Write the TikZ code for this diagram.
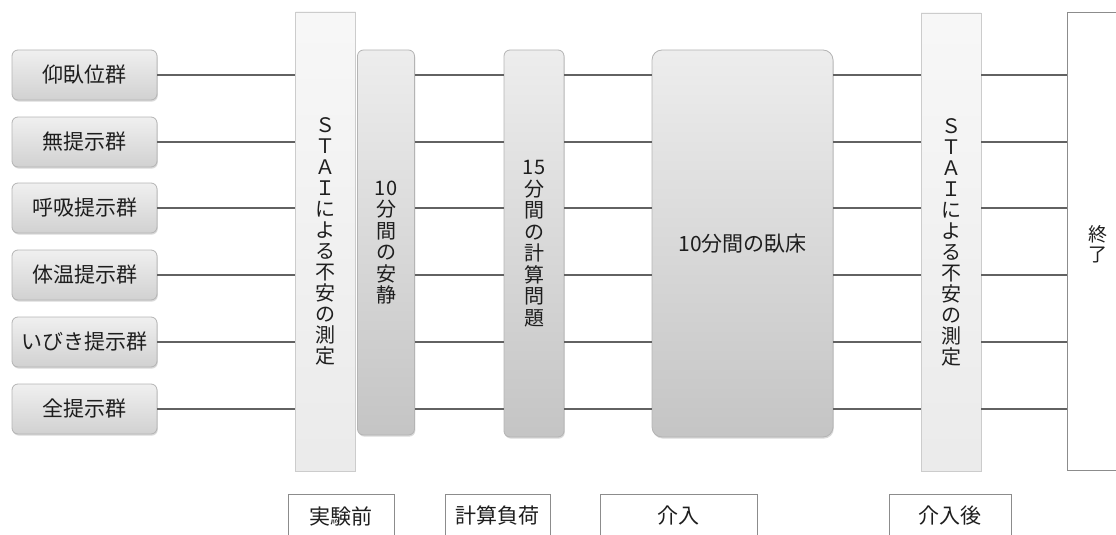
\documentclass[tikz,border=0pt]{standalone}
\usepackage{fontspec}
\setmainfont{Noto Sans CJK JP}
\usetikzlibrary{shadows}
\definecolor{linegray}{HTML}{626262}
\definecolor{txt}{HTML}{1E1E1E}
\definecolor{grpborder}{HTML}{B4B4B4}
\definecolor{staiborder}{HTML}{CCCCCC}
\definecolor{labborder}{HTML}{8C8C8C}
\tikzset{
  shadowed/.style={drop shadow={shadow xshift=0.8pt, shadow yshift=-1.6pt, fill=black, opacity=0.15}},
  grp/.style={shadowed, rounded corners=6pt, draw=grpborder, line width=0.8pt,
    top color=white!94!black, bottom color=white!82!black,
    minimum width=145pt, minimum height=50pt, inner sep=0pt,
    text=txt, font=\fontsize{21}{24}\selectfont},
  stai/.style={draw=staiborder, line width=0.8pt, top color=white!97!black, bottom color=white!92!black,
    minimum width=60pt, inner sep=0pt, text=txt, align=center,
    font=\fontsize{20}{21}\selectfont},
  task/.style={shadowed, rounded corners=8pt, draw=grpborder, line width=0.8pt,
    top color=white!93!black, bottom color=white!77!black,
    inner sep=0pt, text=txt, align=center, font=\fontsize{20}{21.5}\selectfont},
  endbox/.style={draw=labborder, line width=1pt, fill=white, inner sep=0pt,
    text=txt, align=center, font=\fontsize{20}{21}\selectfont},
  lab/.style={draw=labborder, line width=1pt, fill=white, inner sep=0pt,
    minimum height=44pt, text=txt, font=\fontsize{21}{24}\selectfont},
  conn/.style={draw=linegray, line width=2.7pt}
}
\begin{document}
\begin{tikzpicture}[x=1pt,y=-1pt]
\useasboundingbox (0,0) rectangle (1116,535);
% groups
\node[grp] (g1) at (84.5,75)  {仰臥位群};
\node[grp] (g2) at (84.5,142) {無提示群};
\node[grp] (g3) at (84.5,208) {呼吸提示群};
\node[grp] (g4) at (84.5,275) {体温提示群};
\node[grp] (g5) at (84.5,342) {いびき提示群};
\node[grp] (g6) at (84.5,409) {全提示群};
% stage boxes
\node[stai, minimum height=459pt] (stai1) at (325.5,241.5)
  {Ｓ\\Ｔ\\Ａ\\Ｉ\\に\\よ\\る\\不\\安\\の\\測\\定};
\node[task, minimum width=57pt, minimum height=385pt, rounded corners=6pt] (rest) at (386,242.5)
  {10\\分\\間\\の\\安\\静};
\node[task, minimum width=60pt, minimum height=387pt, rounded corners=6pt] (calc) at (534,243.5)
  {15\\分\\間\\の\\計\\算\\問\\題};
\node[task, minimum width=181pt, minimum height=387pt, rounded corners=10pt, font=\fontsize{21}{22}\selectfont] (lie) at (742.5,243.5)
  {10分間の臥床};
\node[stai, minimum height=458pt] (stai2) at (951,242)
  {Ｓ\\Ｔ\\Ａ\\Ｉ\\に\\よ\\る\\不\\安\\の\\測\\定};
\node[endbox, minimum width=66pt, minimum height=457pt] (end) at (1100,241.5) {};
\node[text=txt, align=center, font=\fontsize{19}{20}\selectfont] (endtxt) at (1098,244) {終\\了};
% connectors
\foreach \i in {1,...,6}{
  \draw[conn] (g\i.east) -- (g\i.east -| stai1.west);
  \draw[conn] (g\i.east -| rest.east) -- (g\i.east -| calc.west);
  \draw[conn] (g\i.east -| calc.east) -- (g\i.east -| lie.west);
  \draw[conn] (g\i.east -| lie.east) -- (g\i.east -| stai2.west);
  \draw[conn] (g\i.east -| stai2.east) -- (g\i.east -| end.west);
}
% bottom labels
\node[lab, minimum width=106pt] (l1) at (341,516) {実験前};
\node[lab, minimum width=105pt] (l2) at (497.5,516) {計算負荷};
\node[lab, minimum width=157pt] (l3) at (678.5,516) {介入};
\node[lab, minimum width=122pt] (l4) at (950,516) {介入後};
\end{tikzpicture}
\end{document}
